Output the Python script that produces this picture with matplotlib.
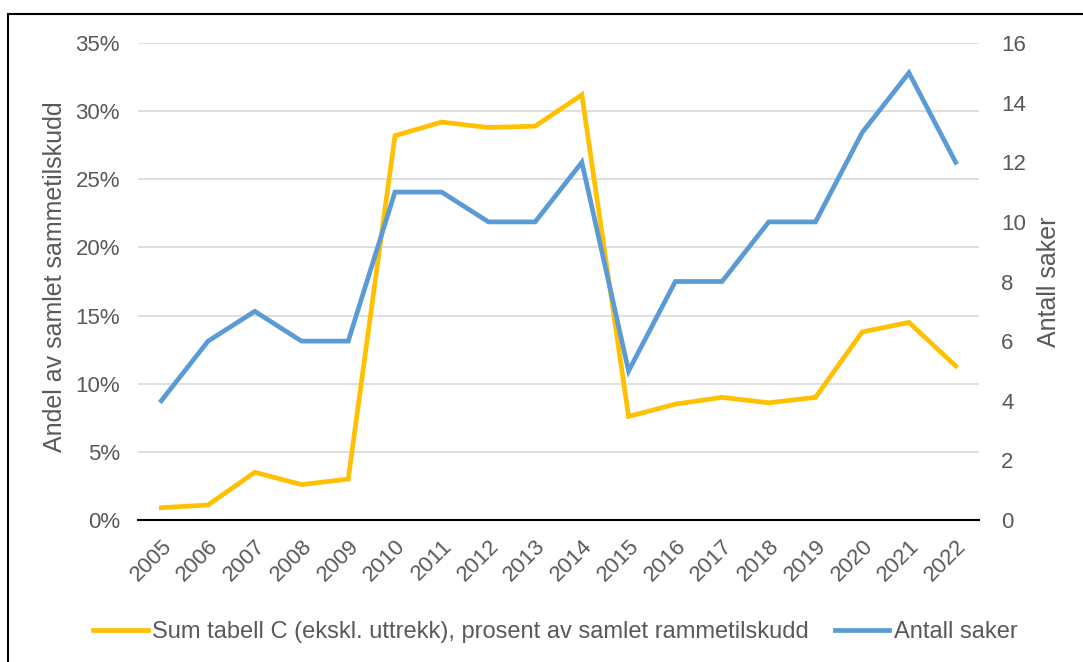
import matplotlib.pyplot as plt
from matplotlib.patches import Rectangle
from matplotlib.ticker import PercentFormatter

plt.rcParams['font.family'] = ['Liberation Sans', 'DejaVu Sans']

years = [str(y) for y in range(2005, 2023)]
andel = [0.9, 1.1, 3.5, 2.6, 3.0, 28.2, 29.2, 28.8, 28.9, 31.2,
         7.6, 8.5, 9.0, 8.6, 9.0, 13.8, 14.5, 11.3]
saker = [4, 6, 7, 6, 6, 11, 11, 10, 10, 12, 5, 8, 8, 10, 10, 13, 15, 12]

yellow = '#FFC000'
blue = '#5B9BD5'
grey = '#595959'

fig = plt.figure(figsize=(10.83, 6.62), dpi=100)
ax = fig.add_axes([0.1274, 0.2145, 0.7766, 0.7205])
ax2 = ax.twinx()

x = range(len(years))
l1, = ax.plot(x, andel, color=yellow, lw=3.4, solid_joinstyle='miter', zorder=3)
l2, = ax2.plot(x, saker, color=blue, lw=3.4, solid_joinstyle='miter', zorder=3)

ax.set_xlim(-0.5, len(years) - 0.5)
ax.set_ylim(0, 35)
ax.set_yticks(range(0, 36, 5))
ax.yaxis.set_major_formatter(PercentFormatter(decimals=0))
ax2.set_ylim(0, 16)
ax2.set_yticks(range(0, 17, 2))

ax.set_xticks(list(x))
ax.set_xticklabels(years, rotation=45, ha='right', rotation_mode='anchor')

ax.grid(axis='y', color='#D9D9D9', lw=1.2)
ax.set_axisbelow(True)
for a in (ax, ax2):
    for s in ('top', 'left', 'right', 'bottom'):
        a.spines[s].set_visible(False)
    a.tick_params(length=0, labelsize=16, labelcolor=grey)
ax.spines['bottom'].set_visible(True)
ax.spines['bottom'].set_color('black')
ax.spines['bottom'].set_linewidth(1.5)
ax.tick_params(axis='y', pad=13)
ax.tick_params(axis='x', pad=11)
ax2.tick_params(axis='y', pad=16)

ax.set_ylabel('Andel av samlet sammetilskudd', fontsize=18, color=grey)
ax.yaxis.set_label_coords(-0.084, 0.51)
ax2.set_ylabel('Antall saker', fontsize=18, color=grey)
ax2.yaxis.set_label_coords(1.069, 0.5)

fig.legend([l1, l2], ['Sum tabell C (ekskl. uttrekk), prosent av samlet rammetilskudd', 'Antall saker'],
           loc='center', bbox_to_anchor=(0.513, 0.045), ncol=2, frameon=False,
           fontsize=17, labelcolor=grey, handlelength=2.3, handletextpad=0.2, columnspacing=1.1)

fig.patches.append(Rectangle((8 / 1083, -0.1), 1.2, 1 - 14 / 662 + 0.1, transform=fig.transFigure,
                             fill=False, edgecolor='black', lw=1.5))

fig.savefig('out.png', dpi=100)
